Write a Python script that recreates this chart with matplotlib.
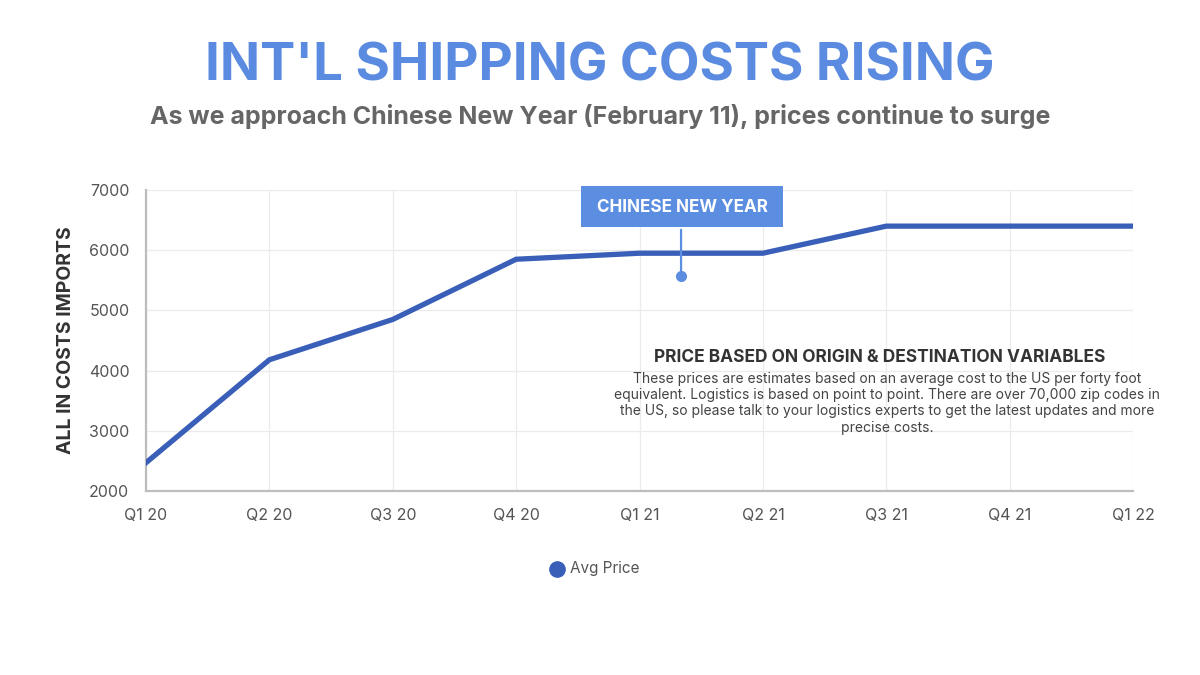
import numpy as np
import matplotlib
matplotlib.use("Agg")
import matplotlib.pyplot as plt
from matplotlib.patches import Rectangle

quarters = ["Q1 20", "Q2 20", "Q3 20", "Q4 20", "Q1 21", "Q2 21", "Q3 21", "Q4 21", "Q1 22"]
avg_price = [2470, 4180, 4850, 5850, 5950, 5950, 6400, 6400, 6400]
y_ticks = [2000, 3000, 4000, 5000, 6000, 7000]

title = "INT'L SHIPPING COSTS RISING"
subtitle = "As we approach Chinese New Year (February 11), prices continue to surge"
note_head = "PRICE BASED ON ORIGIN & DESTINATION VARIABLES"
note_body = ("These prices are estimates based on an average cost to the US per forty foot\n"
             "equivalent. Logistics is based on point to point. There are over 70,000 zip codes in\n"
             "the US, so please talk to your logistics experts to get the latest updates and more\n"
             "precise costs.")

plt.rcParams['font.family'] = ['Inter', 'DejaVu Sans']

line_color = "#3a5fb9"
accent = "#5b8de0"

fig = plt.figure(figsize=(12, 6.75), dpi=100)
ax = fig.add_axes([0.1217, 0.2726, 0.8225, 0.4459])

x = np.arange(len(quarters))
ax.plot(x, avg_price, color=line_color, lw=3.8, solid_joinstyle="miter", zorder=3)

ax.set_xlim(0, len(quarters) - 1)
ax.set_ylim(2000, 7000)
ax.set_xticks(x)
ax.set_xticklabels(quarters)
ax.set_yticks(y_ticks)
ax.tick_params(axis="both", length=0, labelsize=11.5, colors="#555555")
ax.tick_params(axis="x", pad=12)
ax.tick_params(axis="y", pad=12)
ax.grid(True, color="#ebebeb", lw=0.9)
for s in ["top", "right"]:
    ax.spines[s].set_visible(False)
for s in ["left", "bottom"]:
    ax.spines[s].set_color("#bdbdbd")
    ax.spines[s].set_linewidth(1.6)

ax.set_ylabel("ALL IN COSTS IMPORTS", fontsize=14, fontweight="bold", color="#333333", labelpad=10)

fig.text(0.5, 0.901, title, ha="center", va="center", fontsize=38, fontweight="bold",
         color="#5b8be0")
fig.text(0.5, 0.827, subtitle, ha="center", va="center", fontsize=18, fontweight="bold",
         color="#666666")

# Chinese New Year marker
ax.annotate("", xy=(535 / 987, (491 - 276) / 301), xycoords="axes fraction",
            xytext=(535 / 987, (491 - 227) / 301), textcoords="axes fraction",
            arrowprops=dict(arrowstyle="-", color=accent, lw=1.6))
ax.plot([535 / 987], [(491 - 276) / 301], "o", color=accent, ms=7,
        transform=ax.transAxes, clip_on=False, zorder=4)
fig.patches.append(Rectangle((581 / 1200, 1 - 227 / 675), 202 / 1200, 41 / 675,
                             transform=fig.transFigure, fc=accent, ec="none", zorder=5))
fig.text(682 / 1200, 1 - 207 / 675, "CHINESE NEW YEAR", ha="center", va="center",
         fontsize=12.3, fontweight="bold", color="white", zorder=6)

fig.text(880 / 1200, 1 - 358 / 675, note_head, ha="center", va="center", fontsize=12.5,
         fontweight="bold", color="#333333")
fig.text(887 / 1200, 1 - 372 / 675, note_body, ha="center", va="top", fontsize=10,
         color="#444444", linespacing=1.2)

# legend
fig.lines.append(plt.Line2D([557 / 1200], [1 - 569 / 675], marker="o", ms=11,
                            color=line_color, transform=fig.transFigure))
fig.text(570 / 1200, 1 - 569 / 675, "Avg Price", ha="left", va="center", fontsize=11,
         color="#555555")

fig.savefig("out.png", dpi=100)
